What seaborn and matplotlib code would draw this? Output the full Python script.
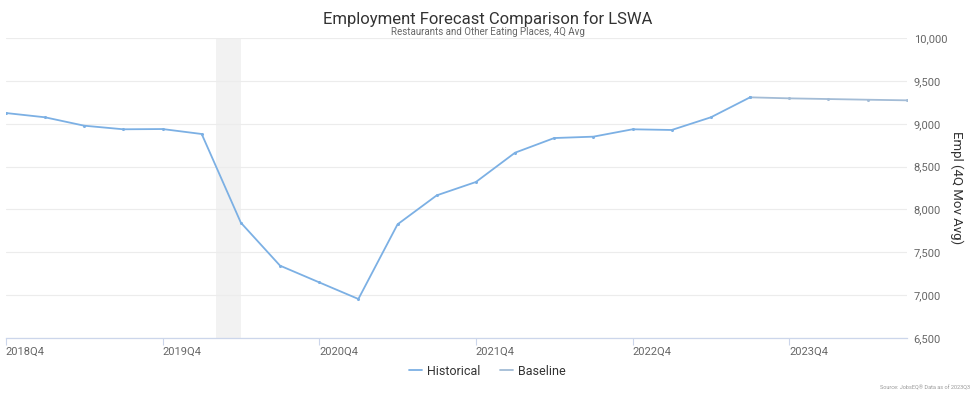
import matplotlib
matplotlib.use("Agg")
import matplotlib.pyplot as plt
import seaborn as sns
import pandas as pd
import numpy as np
from matplotlib.lines import Line2D

quarters = ["2018Q4", "2019Q1", "2019Q2", "2019Q3", "2019Q4", "2020Q1", "2020Q2", "2020Q3",
            "2020Q4", "2021Q1", "2021Q2", "2021Q3", "2021Q4", "2022Q1", "2022Q2", "2022Q3",
            "2022Q4", "2023Q1", "2023Q2", "2023Q3"]
historical = [9125, 9075, 8977, 8935, 8938, 8880, 7845, 7344, 7149, 6955, 7826, 8164,
              8320, 8662, 8833, 8849, 8935, 8927, 9075, 9308]
baseline_quarters = ["2023Q3", "2023Q4", "2024Q1", "2024Q2", "2024Q3"]
baseline = [9308, 9296, 9288, 9280, 9273]
tick_labels = ["2018Q4", "2019Q4", "2020Q4", "2021Q4", "2022Q4", "2023Q4"]
recession_start, recession_end = 5.37, 6.0

all_q = quarters + baseline_quarters[1:]
pos = {q: i for i, q in enumerate(all_q)}

df_h = pd.DataFrame({"x": [pos[q] for q in quarters], "y": historical})
df_b = pd.DataFrame({"x": [pos[q] for q in baseline_quarters], "y": baseline})

sns.set_theme(style="white")
plt.rcParams["font.family"] = ["Roboto", "DejaVu Sans"]

fig = plt.figure(figsize=(9.75, 3.96), dpi=100)
ax = fig.add_axes([0.006, 0.1465, 0.924, 0.7575])

hist_c = "#7cb0e4"
base_c = "#a3bcd6"

ax.axvspan(recession_start, recession_end, color="#f2f2f2", zorder=0, lw=0)
sns.lineplot(data=df_h, x="x", y="y", ax=ax, color=hist_c, lw=1.3, marker="o",
             markersize=2.2, markeredgewidth=0, zorder=3)
sns.lineplot(data=df_b, x="x", y="y", ax=ax, color=base_c, lw=1.3, marker="o",
             markersize=2.2, markeredgewidth=0, zorder=2)

ax.set_xlim(0, len(all_q) - 1)
ax.set_ylim(6500, 10000)
ax.set_yticks(np.arange(6500, 10001, 500))
ax.yaxis.tick_right()
ax.yaxis.set_label_position("right")
ax.set_yticklabels([f"{v:,}" for v in range(6500, 10001, 500)], color="#666666", fontsize=8)
ax.tick_params(axis="y", length=0, pad=5)
ax.grid(axis="y", color="#ececec", lw=0.8)
ax.set_xticks([pos[q] for q in tick_labels])
ax.set_xticklabels(tick_labels, ha="left", color="#666666", fontsize=8)
ax.tick_params(axis="x", length=5, width=0.8, color="#ccd6eb", pad=1, direction="out")
ax.tick_params(axis="x", which="major", bottom=True)
for s in ["top", "left", "right"]:
    ax.spines[s].set_visible(False)
ax.spines["bottom"].set_color("#ccd6eb")
ax.spines["bottom"].set_linewidth(0.9)
ax.set_xlabel("")
ax.set_ylabel("Empl (4Q Mov Avg)", rotation=270, fontsize=9.5, color="#333333",
              va="center", ha="center")
ax.yaxis.set_label_coords(1.0555, 0.5)

fig.text(0.5, 0.952, "Employment Forecast Comparison for LSWA", ha="center", va="center",
         fontsize=12, color="#333333")
fig.text(0.5, 0.919, "Restaurants and Other Eating Places, 4Q Avg", ha="center", va="center",
         fontsize=7, color="#666666")

handles = [Line2D([0], [0], color=hist_c, lw=1.3), Line2D([0], [0], color=base_c, lw=1.3)]
fig.legend(handles, ["Historical", "Baseline"], loc="center", bbox_to_anchor=(0.5, 0.063),
           ncol=2, frameon=False, fontsize=9, handlelength=1.0, handletextpad=0.4,
           columnspacing=1.6, labelcolor="#333333")
fig.text(0.995, 0.015, "Source: JobsEQ\u00ae Data as of 2023Q3", ha="right", va="bottom",
         fontsize=4, color="#999999")

fig.savefig("out.png", dpi=100)
